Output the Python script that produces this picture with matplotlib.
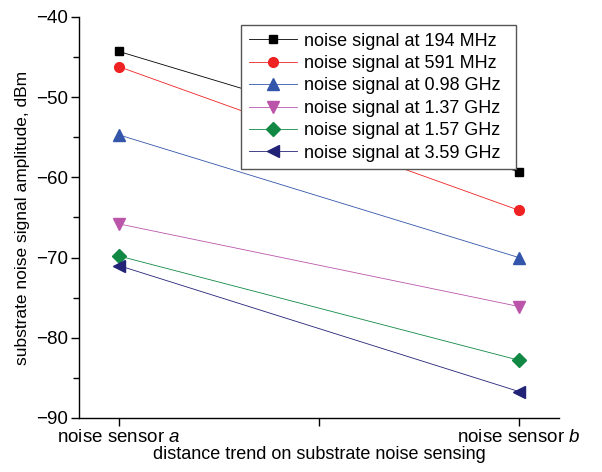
import numpy as np
import matplotlib as mpl
mpl.use('Agg')
import matplotlib.pyplot as plt
from matplotlib.ticker import MultipleLocator

plt.rcParams['font.family'] = ['Liberation Sans', 'DejaVu Sans']
plt.rcParams['mathtext.fontset'] = 'custom'
plt.rcParams['mathtext.rm'] = 'Liberation Sans'
plt.rcParams['mathtext.it'] = 'Liberation Sans:italic'

positions = [0, 1]
tick_labels = ['noise sensor $a$', '', 'noise sensor $b$']
labels = ['noise signal at 194 MHz', 'noise signal at 591 MHz', 'noise signal at 0.98 GHz',
          'noise signal at 1.37 GHz', 'noise signal at 1.57 GHz', 'noise signal at 3.59 GHz']
sensor_a = [-44.3, -46.2, -54.7, -65.8, -69.8, -71.0]
sensor_b = [-59.3, -64.1, -70.0, -76.1, -82.8, -86.7]

colors = ['#000000', '#ee2222', '#3355aa', '#bb55aa', '#118844', '#222277']
markers = ['s', 'o', '^', 'v', 'D', '<']
msizes = [6, 7, 8.5, 8.5, 7, 8.5]

fig = plt.figure(figsize=(6.02, 4.72), dpi=100)
ax = fig.add_axes([79 / 602, 1 - 418 / 472, (559 - 79) / 602, (418 - 17) / 472])

for i in range(len(labels)):
    ax.plot(positions, [sensor_a[i], sensor_b[i]], color=colors[i], marker=markers[i],
            markersize=msizes[i], linewidth=0.6, label=labels[i], clip_on=False)

ax.set_xlim(-0.1, 1.1)
ax.set_ylim(-90, -40)
ax.set_xticks([0, 0.5, 1])
ax.set_xticklabels(tick_labels)
ax.yaxis.set_major_locator(MultipleLocator(10))
ax.yaxis.set_minor_locator(MultipleLocator(5))
ax.tick_params(axis='both', which='major', labelsize=13.5, length=6, width=1, direction='out', pad=2)
ax.tick_params(axis='y', which='minor', length=4, width=1, direction='out')
ax.set_yticklabels([f'\u2212{abs(v):.0f}' for v in ax.get_yticks()])
for s in ['top', 'right']:
    ax.spines[s].set_visible(False)
for s in ['left', 'bottom']:
    ax.spines[s].set_linewidth(1)

ax.set_xlabel('distance trend on substrate noise sensing', fontsize=13, labelpad=0)
ax.set_ylabel('substrate noise signal amplitude, dBm', fontsize=12.5, labelpad=4)

leg = ax.legend(loc='upper left', bbox_to_anchor=(241 / 602, 1 - 170 / 472, 275 / 602, 145 / 472),
                bbox_transform=fig.transFigure, borderaxespad=0, fontsize=13, mode='expand',
                fancybox=False, framealpha=1, edgecolor='#555555', handlelength=2.7,
                labelspacing=0.3, borderpad=0.42, handletextpad=0.35)
leg.get_frame().set_linewidth(1)

plt.savefig('out.png', dpi=100)
